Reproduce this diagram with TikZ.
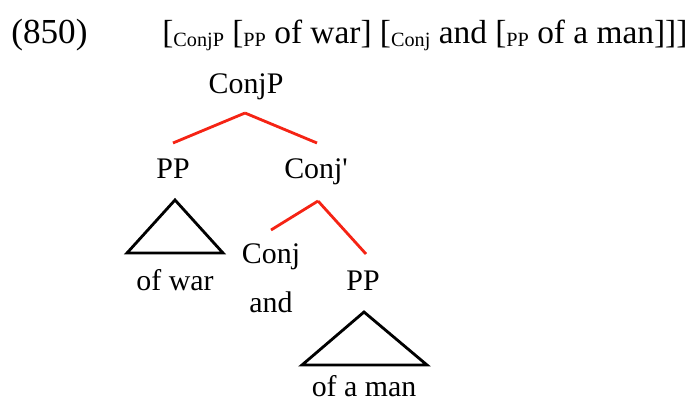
\documentclass[tikz,border=0pt]{standalone}
\usepackage{fontspec}
\setmainfont{Liberation Serif}
\definecolor{branchred}{RGB}{245,35,20}
\newcommand{\lbl}[1]{\raisebox{-0.1em}{\fontsize{11.5}{13}\selectfont #1}}

\begin{document}
\begin{tikzpicture}[
  lab/.style={anchor=base,inner sep=0pt,font=\fontsize{17}{20}\selectfont},
  branch/.style={draw=branchred,line width=1.6pt},
  tri/.style={draw=black,line width=1.6pt,line join=miter}]
\useasboundingbox (0,0) rectangle (13.84,-8.02);

% example number and bracketing
\node[anchor=base west,inner sep=0pt,font=\fontsize{20}{24}\selectfont] (num) at (0.22,-0.86) {(850)};
\node[anchor=base west,inner sep=0pt,font=\fontsize{19}{23}\selectfont] (brk) at (3.24,-0.86)
  {[\lbl{ConjP} [\lbl{PP} of war] [\lbl{Conj} and [\lbl{PP} of a man]]]};

% tree labels
\node[lab] (ConjP) at (4.92,-1.86) {ConjP};
\node[lab] (PPa) at (3.46,-3.56) {PP};
\node[lab] (Conjbar) at (6.32,-3.56) {Conj\textquotesingle};
\node[lab] (war) at (3.50,-5.80) {of war};
\node[lab] (Conj) at (5.42,-5.26) {Conj};
\node[lab] (and) at (5.42,-6.24) {and};
\node[lab] (PPb) at (7.26,-5.80) {PP};
\node[lab] (man) at (7.28,-7.92) {of a man};

% branch ends
\coordinate (ConjP-b) at (4.90,-2.26);
\coordinate (PPa-t) at (3.46,-2.86);
\coordinate (Conjbar-t) at (6.34,-2.86);
\coordinate (Conjbar-b) at (6.36,-4.02);
\coordinate (Conj-t) at (5.42,-4.60);
\coordinate (PPb-t) at (7.32,-5.08);

\path[branch] (ConjP-b) edge (PPa-t);
\path[branch] (ConjP-b) edge (Conjbar-t);
\path[branch] (Conjbar-b) edge (Conj-t);
\path[branch] (Conjbar-b) edge (PPb-t);

% triangles
\draw[tri] (3.50,-4.00) -- (2.54,-5.06) -- (4.46,-5.06) -- cycle;
\draw[tri] (7.28,-6.24) -- (6.04,-7.30) -- (8.54,-7.30) -- cycle;

\end{tikzpicture}
\end{document}
